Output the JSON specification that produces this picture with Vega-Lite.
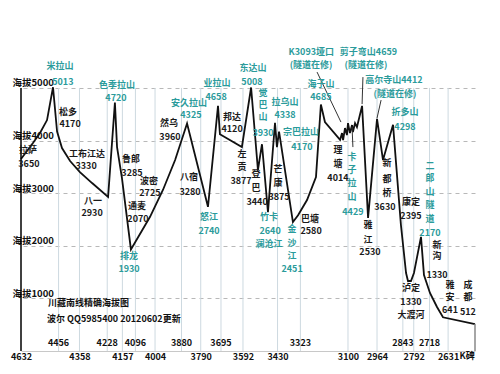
{
  "$schema": "https://vega.github.io/schema/vega-lite/v6.json",
  "autosize": {"type": "none"},
  "padding": {"left": 21, "top": 9, "right": 25, "bottom": 23},
  "width": 454,
  "height": 342,
  "background": "white",
  "view": {"stroke": null},
  "config": {"text": {"font": "Noto Sans CJK SC", "fontSize": 9, "fontWeight": "bold", "baseline": "middle", "align": "center"}},
  "datasets": {
    "profile": [
      {"km": 4632, "el": 3650}, {"km": 4576, "el": 3952}, {"km": 4543, "el": 4143}, {"km": 4510, "el": 4389},
      {"km": 4482, "el": 5013}, {"km": 4463, "el": 4170}, {"km": 4440, "el": 3857}, {"km": 4402, "el": 3610},
      {"km": 4356, "el": 3401}, {"km": 4299, "el": 3192}, {"km": 4224, "el": 2930}, {"km": 4192, "el": 4720},
      {"km": 4182, "el": 3876}, {"km": 4159, "el": 3285}, {"km": 4117, "el": 1930}, {"km": 4028, "el": 2546},
      {"km": 3967, "el": 3060}, {"km": 3910, "el": 3630}, {"km": 3854, "el": 4325}, {"km": 3756, "el": 2740},
      {"km": 3709, "el": 4658}, {"km": 3700, "el": 4120}, {"km": 3597, "el": 3877}, {"km": 3554, "el": 5008},
      {"km": 3522, "el": 3440}, {"km": 3503, "el": 3930}, {"km": 3475, "el": 2640}, {"km": 3442, "el": 4338},
      {"km": 3433, "el": 3875}, {"km": 3423, "el": 4170}, {"km": 3358, "el": 2451}, {"km": 3334, "el": 2580},
      {"km": 3292, "el": 2870}, {"km": 3250, "el": 3307}, {"km": 3227, "el": 4685}, {"km": 3208, "el": 4351},
      {"km": 3137, "el": 4014}, {"km": 3128, "el": 4143}, {"km": 3123, "el": 4010}, {"km": 3114, "el": 4237},
      {"km": 3105, "el": 4104}, {"km": 3100, "el": 4332}, {"km": 3091, "el": 4142}, {"km": 3081, "el": 4294},
      {"km": 3077, "el": 4161}, {"km": 3067, "el": 4332}, {"km": 3058, "el": 4256}, {"km": 3034, "el": 4659},
      {"km": 3006, "el": 2530}, {"km": 2964, "el": 4412}, {"km": 2936, "el": 3630}, {"km": 2889, "el": 4298},
      {"km": 2852, "el": 2395}, {"km": 2828, "el": 1482}, {"km": 2819, "el": 1330}, {"km": 2805, "el": 1330},
      {"km": 2791, "el": 1482}, {"km": 2758, "el": 2170}, {"km": 2744, "el": 1444}, {"km": 2716, "el": 1102},
      {"km": 2683, "el": 836}, {"km": 2655, "el": 641}, {"km": 2505, "el": 512}
    ],
    "labels": [
      {"t": "米拉山", "km": 4449, "el": 5417, "kind": "pass"}, {"t": "5013", "km": 4436, "el": 5113, "kind": "pass"},
      {"t": "色季拉山", "km": 4182, "el": 5056, "kind": "pass"}, {"t": "4720", "km": 4187, "el": 4809, "kind": "pass"},
      {"t": "排龙", "km": 4126, "el": 1806, "kind": "pass"}, {"t": "1930", "km": 4126, "el": 1558, "kind": "pass"},
      {"t": "安久拉山", "km": 3845, "el": 4713, "kind": "pass"}, {"t": "4325", "km": 3836, "el": 4485, "kind": "pass"},
      {"t": "怒江", "km": 3751, "el": 2547, "kind": "pass"}, {"t": "2740", "km": 3751, "el": 2281, "kind": "pass"},
      {"t": "业拉山", "km": 3714, "el": 5094, "kind": "pass"}, {"t": "4658", "km": 3718, "el": 4828, "kind": "pass"},
      {"t": "东达山", "km": 3545, "el": 5379, "kind": "pass"}, {"t": "5008", "km": 3550, "el": 5113, "kind": "pass"},
      {"t": "觉", "km": 3498, "el": 4904, "kind": "pass"}, {"t": "巴", "km": 3498, "el": 4675, "kind": "pass"},
      {"t": "山", "km": 3498, "el": 4447, "kind": "pass"}, {"t": "3930", "km": 3498, "el": 4143, "kind": "pass"},
      {"t": "拉乌山", "km": 3395, "el": 4732, "kind": "pass"}, {"t": "4338", "km": 3395, "el": 4485, "kind": "pass"},
      {"t": "宗巴拉山", "km": 3320, "el": 4162, "kind": "pass"}, {"t": "4170", "km": 3316, "el": 3877, "kind": "pass"},
      {"t": "竹卡", "km": 3470, "el": 2547, "kind": "pass"}, {"t": "2640", "km": 3465, "el": 2281, "kind": "pass"},
      {"t": "澜沧江", "km": 3470, "el": 2034, "kind": "pass"},
      {"t": "金", "km": 3362, "el": 2319, "kind": "pass"}, {"t": "沙", "km": 3362, "el": 2053, "kind": "pass"},
      {"t": "江", "km": 3362, "el": 1806, "kind": "pass"}, {"t": "2451", "km": 3362, "el": 1558, "kind": "pass"},
      {"t": "海子山", "km": 3227, "el": 5075, "kind": "pass"}, {"t": "4685", "km": 3227, "el": 4828, "kind": "pass"},
      {"t": "K3093垭口", "km": 3272, "el": 5683, "kind": "pass"}, {"t": "(隧道在修)", "km": 3273, "el": 5436, "kind": "pass"},
      {"t": "剪子弯山4659", "km": 3004, "el": 5683, "kind": "pass"}, {"t": "(隧道在修)", "km": 3016, "el": 5436, "kind": "pass"},
      {"t": "高尔寺山4412", "km": 2885, "el": 5151, "kind": "pass"}, {"t": "(隧道在修)", "km": 2880, "el": 4885, "kind": "pass"},
      {"t": "折多山", "km": 2833, "el": 4542, "kind": "pass"}, {"t": "4298", "km": 2833, "el": 4257, "kind": "pass"},
      {"t": "卡", "km": 3081, "el": 3687, "kind": "pass"}, {"t": "子", "km": 3081, "el": 3440, "kind": "pass"},
      {"t": "拉", "km": 3081, "el": 3193, "kind": "pass"}, {"t": "山", "km": 3081, "el": 2927, "kind": "pass"},
      {"t": "4429", "km": 3077, "el": 2642, "kind": "pass"},
      {"t": "二", "km": 2716, "el": 3516, "kind": "pass"}, {"t": "郎", "km": 2716, "el": 3288, "kind": "pass"},
      {"t": "山", "km": 2716, "el": 3022, "kind": "pass"}, {"t": "隧", "km": 2716, "el": 2775, "kind": "pass"},
      {"t": "道", "km": 2716, "el": 2509, "kind": "pass"}, {"t": "2170", "km": 2716, "el": 2243, "kind": "pass"},
      {"t": "拉萨", "km": 4599, "el": 3820, "kind": "town"}, {"t": "3650", "km": 4595, "el": 3554, "kind": "town"},
      {"t": "松多", "km": 4412, "el": 4542, "kind": "town"}, {"t": "4170", "km": 4402, "el": 4314, "kind": "town"},
      {"t": "工布江达", "km": 4323, "el": 3744, "kind": "town"}, {"t": "3330", "km": 4327, "el": 3516, "kind": "town"},
      {"t": "八一", "km": 4295, "el": 2851, "kind": "town"}, {"t": "2930", "km": 4299, "el": 2623, "kind": "town"},
      {"t": "鲁郎", "km": 4117, "el": 3649, "kind": "town"}, {"t": "3285", "km": 4112, "el": 3383, "kind": "town"},
      {"t": "波密", "km": 4032, "el": 3231, "kind": "town"}, {"t": "2725", "km": 4028, "el": 3003, "kind": "town"},
      {"t": "通麦", "km": 4089, "el": 2756, "kind": "town"}, {"t": "2070", "km": 4084, "el": 2509, "kind": "town"},
      {"t": "然乌", "km": 3939, "el": 4333, "kind": "town"}, {"t": "3960", "km": 3934, "el": 4067, "kind": "town"},
      {"t": "八宿", "km": 3845, "el": 3307, "kind": "town"}, {"t": "3280", "km": 3840, "el": 3022, "kind": "town"},
      {"t": "邦达", "km": 3643, "el": 4447, "kind": "town"}, {"t": "4120", "km": 3643, "el": 4219, "kind": "town"},
      {"t": "左", "km": 3597, "el": 3744, "kind": "town"}, {"t": "贡", "km": 3597, "el": 3497, "kind": "town"},
      {"t": "3877", "km": 3601, "el": 3231, "kind": "town"},
      {"t": "登", "km": 3531, "el": 3364, "kind": "town"}, {"t": "巴", "km": 3531, "el": 3098, "kind": "town"},
      {"t": "3440", "km": 3526, "el": 2832, "kind": "town"},
      {"t": "芒", "km": 3428, "el": 3459, "kind": "town"}, {"t": "康", "km": 3428, "el": 3193, "kind": "town"},
      {"t": "3875", "km": 3423, "el": 2927, "kind": "town"},
      {"t": "巴塘", "km": 3278, "el": 2509, "kind": "town"}, {"t": "2580", "km": 3273, "el": 2281, "kind": "town"},
      {"t": "理", "km": 3147, "el": 3820, "kind": "town"}, {"t": "塘", "km": 3147, "el": 3554, "kind": "town"},
      {"t": "4014", "km": 3147, "el": 3288, "kind": "town"},
      {"t": "雅", "km": 3006, "el": 2395, "kind": "town"}, {"t": "江", "km": 3006, "el": 2110, "kind": "town"},
      {"t": "2530", "km": 2997, "el": 1882, "kind": "town"},
      {"t": "新", "km": 2917, "el": 3573, "kind": "town"}, {"t": "都", "km": 2917, "el": 3269, "kind": "town"},
      {"t": "桥", "km": 2917, "el": 3003, "kind": "town"}, {"t": "3630", "km": 2927, "el": 2737, "kind": "town"},
      {"t": "康定", "km": 2805, "el": 2832, "kind": "town"}, {"t": "2395", "km": 2805, "el": 2566, "kind": "town"},
      {"t": "新", "km": 2683, "el": 2015, "kind": "town"}, {"t": "沟", "km": 2683, "el": 1806, "kind": "town"},
      {"t": "1330", "km": 2683, "el": 1444, "kind": "town"},
      {"t": "泸定", "km": 2805, "el": 1197, "kind": "town"}, {"t": "1330", "km": 2805, "el": 931, "kind": "town"},
      {"t": "大渡河", "km": 2805, "el": 684, "kind": "town"},
      {"t": "雅", "km": 2622, "el": 1254, "kind": "town"}, {"t": "安", "km": 2622, "el": 1026, "kind": "town"},
      {"t": "641", "km": 2622, "el": 779, "kind": "town"},
      {"t": "成", "km": 2538, "el": 1254, "kind": "town"}, {"t": "都", "km": 2538, "el": 1026, "kind": "town"},
      {"t": "512", "km": 2538, "el": 741, "kind": "town"}
    ],
    "ticks": [
      {"km": 4456, "row": "top"}, {"km": 4358, "row": "bottom"}, {"km": 4228, "row": "top"}, {"km": 4157, "row": "bottom"},
      {"km": 4096, "row": "top"}, {"km": 4004, "row": "bottom"}, {"km": 3880, "row": "top"}, {"km": 3790, "row": "bottom"},
      {"km": 3695, "row": "top"}, {"km": 3592, "row": "bottom"}, {"km": 3430, "row": "bottom"}, {"km": 3323, "row": "top"},
      {"km": 3100, "row": "bottom"}, {"km": 2964, "row": "bottom"}, {"km": 2843, "row": "top"}, {"km": 2792, "row": "bottom"},
      {"km": 2718, "row": "top"}, {"km": 2631, "row": "bottom"}
    ],
    "pointers": [
      {"km": 3245, "el": 5301, "km2": 3133, "el2": 4351},
      {"km": 3030, "el": 5206, "km2": 3034, "el2": 4693},
      {"km": 2945, "el": 4769, "km2": 2964, "el2": 4427},
      {"km": 3081, "el": 4256, "km2": 3077, "el2": 3876}
    ],
    "notes": [
      {"t": "川藏南线精确海拔图", "km": 4505, "el": 912},
      {"t": "波尔 QQ5985400 20120602更新", "km": 4510, "el": 608}
    ]
  },
  "layer": [
    {
      "data": {"name": "ticks"},
      "mark": {"type": "rule", "color": "#cdd9e0", "strokeWidth": 1},
      "encoding": {
        "x": {"field": "km", "type": "quantitative"},
        "y": {"datum": 0, "type": "quantitative"},
        "y2": {"datum": 5000}
      }
    },
    {
      "data": {"name": "profile"},
      "mark": {"type": "line", "color": "#111111", "strokeWidth": 1.8},
      "encoding": {
        "x": {
          "field": "km", "type": "quantitative",
          "scale": {"domain": [2505, 4632], "reverse": true, "nice": false, "zero": false},
          "axis": {
            "values": [4632, 4358, 4157, 4004, 3790, 3592, 3430, 3100, 2964, 2792, 2631],
            "format": "d", "title": null, "ticks": false, "tickSize": 0, "labelPadding": 1, "grid": false,
            "domainColor": "#c8c8c8", "labelFont": "Noto Sans CJK SC", "labelFontSize": 9, "labelFontWeight": "bold",
            "labelColor": "#111111", "labelFlush": false, "labelOverlap": false
          }
        },
        "y": {
          "field": "el", "type": "quantitative",
          "scale": {"domain": [0, 6500], "nice": false, "zero": false},
          "axis": {
            "values": [1000, 2000, 3000, 4000, 5000], "labelExpr": "'海拔' + datum.value", "title": null,
            "ticks": false, "tickSize": 0, "domain": false, "grid": true, "gridDash": [4, 4], "gridColor": "#b8b8b8",
            "labelAlign": "left", "labelBaseline": "middle", "labelPadding": 9, "labelOffset": -5,
            "labelFont": "Noto Sans CJK SC", "labelFontSize": 9.5, "labelFontWeight": "bold", "labelColor": "#111111"
          }
        }
      }
    },
    {
      "data": {"values": [{"km": 4632}]},
      "mark": {"type": "rule", "color": "#000000", "strokeWidth": 1.5},
      "encoding": {"x": {"field": "km", "type": "quantitative"}, "y": {"datum": 0, "type": "quantitative"}, "y2": {"datum": 5000}}
    },
    {
      "data": {"values": [{"km": 2505}]},
      "mark": {"type": "rule", "color": "#888888", "strokeWidth": 1.5},
      "encoding": {"x": {"field": "km", "type": "quantitative"}, "y": {"datum": 0, "type": "quantitative"}, "y2": {"datum": 512}}
    },
    {
      "data": {"name": "pointers"},
      "mark": {"type": "rule", "color": "#333333", "strokeWidth": 1},
      "encoding": {
        "x": {"field": "km", "type": "quantitative"}, "y": {"field": "el", "type": "quantitative"},
        "x2": {"field": "km2"}, "y2": {"field": "el2"}
      }
    },
    {
      "data": {"name": "labels"},
      "mark": {"type": "text"},
      "encoding": {
        "x": {"field": "km", "type": "quantitative"}, "y": {"field": "el", "type": "quantitative"},
        "text": {"field": "t", "type": "nominal"},
        "color": {"field": "kind", "type": "nominal", "scale": {"domain": ["pass", "town"], "range": ["#2b9b9b", "#1a1a1a"]}, "legend": null}
      }
    },
    {
      "data": {"name": "ticks"},
      "transform": [{"filter": "datum.row == 'top'"}],
      "mark": {"type": "text", "color": "#111111"},
      "encoding": {
        "x": {"field": "km", "type": "quantitative"},
        "y": {"datum": 152, "type": "quantitative"},
        "text": {"field": "km", "type": "quantitative", "format": "d"}
      }
    },
    {
      "data": {"values": [{"t": "K碑", "km": 2542}]},
      "mark": {"type": "text", "color": "#111111"},
      "encoding": {
        "x": {"field": "km", "type": "quantitative"},
        "y": {"datum": -95, "type": "quantitative"},
        "text": {"field": "t", "type": "nominal"}
      }
    },
    {
      "data": {"name": "notes"},
      "mark": {"type": "text", "align": "left", "color": "#111111", "fontSize": 9},
      "encoding": {
        "x": {"field": "km", "type": "quantitative"}, "y": {"field": "el", "type": "quantitative"},
        "text": {"field": "t", "type": "nominal"}
      }
    }
  ]
}
